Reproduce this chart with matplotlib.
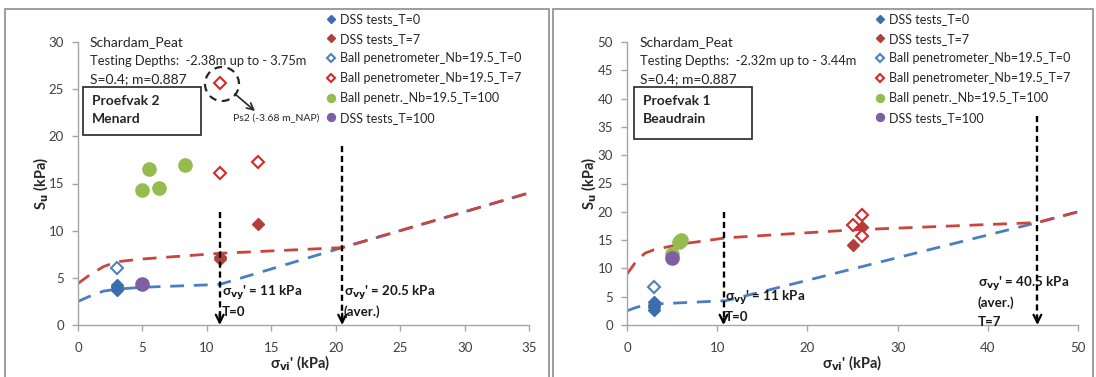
import matplotlib
matplotlib.use("Agg")
import matplotlib.pyplot as plt
from matplotlib.patches import Rectangle, Ellipse

plt.rcParams['font.family'] = ['Lato', 'DejaVu Sans']

# ---------------- data: left panel (Proefvak 2, Menard) ----------------
L_dss0_x = [3, 3, 3]
L_dss0_y = [4.2, 3.7, 4.0]
L_dss7_x = [11, 11, 14]
L_dss7_y = [7.0, 7.2, 10.7]
L_ball0_x = [3]
L_ball0_y = [6.0]
L_ball7_x = [11, 14, 11]
L_ball7_y = [16.1, 17.3, 25.7]
L_ball100_x = [5, 5.5, 6.3, 8.3]
L_ball100_y = [14.3, 16.5, 14.5, 17.0]
L_dss100_x = [5]
L_dss100_y = [4.3]
L_red_x = [0, 1, 2, 3, 5, 8, 11, 20.5, 35]
L_red_y = [4.4, 5.4, 6.2, 6.7, 7.0, 7.3, 7.6, 8.2, 14.0]
L_blue_x = [0, 1, 2, 3, 5, 8, 11, 20.5, 35]
L_blue_y = [2.5, 3.1, 3.6, 3.8, 4.0, 4.15, 4.3, 8.2, 14.0]
L_arrows_x = [11, 20.5]
L_arrows_top = [12, 19]

# ---------------- data: right panel (Proefvak 1, Beaudrain) ----------------
R_dss0_x = [3, 3, 3, 3]
R_dss0_y = [2.6, 3.1, 3.6, 4.1]
R_dss7_x = [25, 26]
R_dss7_y = [14.2, 17.3]
R_ball0_x = [3]
R_ball0_y = [6.8]
R_ball7_x = [25, 26, 26]
R_ball7_y = [17.7, 19.4, 15.8]
R_ball100_x = [5, 5.8, 6]
R_ball100_y = [12.5, 14.6, 15.1]
R_dss100_x = [5]
R_dss100_y = [11.8]
R_red_x = [0, 1, 2, 3, 6, 11, 25, 45.5, 50]
R_red_y = [9.0, 11.2, 12.7, 13.3, 14.3, 15.4, 16.8, 18.1, 20.0]
R_blue_x = [0, 1, 2, 3, 11, 45.5, 50]
R_blue_y = [2.5, 3.1, 3.5, 3.7, 4.3, 18.1, 20.0]
R_arrows_x = [10.7, 45.5]
R_arrows_top = [20, 37]

labels = ['DSS tests_T=0', 'DSS tests_T=7', 'Ball penetrometer_Nb=19.5_T=0',
          'Ball penetrometer_Nb=19.5_T=7', 'Ball penetr._Nb=19.5_T=100', 'DSS tests_T=100']

C_BLUE = '#3C6DAE'
C_RED = '#B0403C'
C_RED_OPEN = '#D42A2A'
C_BLUE_OPEN = '#4F81BD'
C_GREEN = '#94BC4E'
C_PURPLE = '#7E5FA6'
C_LBLUE = '#4A7EC2'
C_LRED = '#C9453F'
GRAY = '#A6A6A6'
TXT = '#404040'

W, H = 1096, 377
fig = plt.figure(figsize=(W / 100, H / 100), dpi=100)

# panel frames
for x0, x1 in [(5, 549), (553, 1093)]:
    fig.patches.append(Rectangle((x0 / W, -0.1), (x1 - x0) / W, (H - 9) / H + 0.1,
                                 transform=fig.transFigure, fill=False,
                                 edgecolor='#8C8C8C', lw=1.2))


def px(x, y):
    return x / W, 1 - y / H


def make_axes(left_px, xmax, xstep, ymax, ystep):
    ax = fig.add_axes([left_px / W, (H - 325) / H, 451 / W, 283 / H])
    ax.set_xlim(0, xmax)
    ax.set_ylim(0, ymax)
    ax.set_xticks(range(0, xmax + 1, xstep))
    ax.set_yticks(range(0, ymax + 1, ystep))
    for s in ['top', 'right']:
        ax.spines[s].set_visible(False)
    for s in ['left', 'bottom']:
        ax.spines[s].set_color(GRAY)
        ax.spines[s].set_linewidth(1.0)
    ax.tick_params(axis='both', colors=GRAY, labelcolor=TXT, labelsize=9.5,
                   length=4, width=1.0, direction='out')
    ax.tick_params(axis='x', pad=8)
    ax.tick_params(axis='y', pad=6)
    ax.patch.set_alpha(0)
    return ax


def draw_panel(ax, d, red_x, red_y, blue_x, blue_y):
    ax.plot(blue_x, blue_y, ls=(0, (5, 3.5)), color=C_LBLUE, lw=2.0, zorder=2)
    ax.plot(red_x, red_y, ls=(0, (5, 3.5)), color=C_LRED, lw=2.0, zorder=2)
    h = []
    h.append(ax.plot(d[0][0], d[0][1], 'D', ms=6.5, color=C_BLUE, ls='none', zorder=4)[0])
    h.append(ax.plot(d[1][0], d[1][1], 'D', ms=6.5, color=C_RED, ls='none', zorder=4)[0])
    h.append(ax.plot(d[2][0], d[2][1], 'D', ms=6.5, mfc='white', mec=C_BLUE_OPEN, mew=1.5,
                     ls='none', zorder=4)[0])
    h.append(ax.plot(d[3][0], d[3][1], 'D', ms=6.5, mfc='white', mec=C_RED_OPEN, mew=1.5,
                     ls='none', zorder=4)[0])
    h.append(ax.plot(d[4][0], d[4][1], 'o', ms=9.5, color=C_GREEN, ls='none', zorder=4)[0])
    h.append(ax.plot(d[5][0], d[5][1], 'o', ms=9.5, color=C_PURPLE, ls='none', zorder=4)[0])
    return h


def vert_arrows(ax, xs, tops):
    for x, t in zip(xs, tops):
        ax.plot([x, x], [t, 0.4], color='black', lw=1.7, ls=(0, (2.6, 1.6)), zorder=5)
        ax.annotate('', xy=(x, 0), xytext=(x, 1.2),
                    arrowprops=dict(arrowstyle='->', color='black', lw=1.6,
                                    mutation_scale=14, shrinkA=0, shrinkB=0),
                    zorder=5)


def legend(ax, handles, x, y):
    leg = ax.legend(handles, labels, loc='upper left', bbox_to_anchor=px(x, y),
                    bbox_transform=fig.transFigure, frameon=False, fontsize=9,
                    handlelength=0.5, handletextpad=0.45, labelspacing=0.62,
                    markerscale=0.6, borderaxespad=0, borderpad=0)
    for t in leg.get_texts():
        t.set_color('#262626')


def header(x, depth_text, box_lines, box_x, box_y, box_w, box_h):
    fig.text(*px(x, 42), 'Schardam_Peat', fontsize=10, color='#262626', va='center')
    fig.text(*px(x, 61), depth_text, fontsize=9.3, color='#262626', va='center')
    fig.text(*px(x, 79), 'S=0.4; m=0.887', fontsize=10, color='#262626', va='center')
    fig.patches.append(Rectangle(px(box_x, box_y + box_h), box_w / W, box_h / H,
                                 transform=fig.transFigure, fill=True, facecolor='white',
                                 edgecolor='#262626', lw=1.2, zorder=3))
    fig.text(*px(box_x + 9, box_y + 14), box_lines[0], fontsize=10, fontweight='bold',
             color='#262626', va='center', zorder=4)
    fig.text(*px(box_x + 9, box_y + 32), box_lines[1], fontsize=10, fontweight='bold',
             color='#262626', va='center', zorder=4)


def axis_labels(ax, ylab_x, xlab_x):
    fig.text(*px(ylab_x, 183), r"S$_\mathbf{u}$ (kPa)", rotation=90, fontsize=10.5,
             fontweight='bold', color='#262626', ha='center', va='center')
    fig.text(*px(xlab_x, 363), r"σ$_\mathbf{vi}$' (kPa)", fontsize=10.5,
             fontweight='bold', color='#262626', ha='center', va='center')


def sig_text(x, y, lines):
    for i, ln in enumerate(lines):
        fig.text(*px(x, y + 19 * i), ln, fontsize=9.6, fontweight='bold',
                 color='#1a1a1a', va='center', zorder=6)


# ---------------- left panel ----------------
axL = make_axes(78, 35, 5, 30, 5)
hL = draw_panel(axL, [(L_dss0_x, L_dss0_y), (L_dss7_x, L_dss7_y), (L_ball0_x, L_ball0_y),
                      (L_ball7_x, L_ball7_y), (L_ball100_x, L_ball100_y),
                      (L_dss100_x, L_dss100_y)],
                L_red_x, L_red_y, L_blue_x, L_blue_y)
vert_arrows(axL, L_arrows_x, L_arrows_top)
legend(axL, hL, 328, 13)
header(90, 'Testing Depths:  -2.38m up to - 3.75m', ['Proefvak 2', 'Menard'], 83, 87, 118, 48)
axis_labels(axL, 41, 300)
sig_text(222, 293, [r"σ$_\mathbf{vy}$' = 11 kPa", 'T=0'])
sig_text(344, 293, [r"σ$_\mathbf{vy}$' = 20.5 kPa", '(aver.)'])
# dashed circle + pointer
circ = Ellipse(px(222, 84), 34 / W, 34 / H, transform=fig.transFigure, fill=False,
               edgecolor='#262626', lw=1.6, ls=(0, (3.5, 2.5)))
fig.patches.append(circ)
axL.annotate('', xy=px(255, 111), xytext=px(235, 94), xycoords='figure fraction',
             textcoords='figure fraction',
             arrowprops=dict(arrowstyle='->', color='#262626', lw=1.2, mutation_scale=12,
                             shrinkA=0, shrinkB=0))
fig.text(*px(233, 118), 'Ps2 (-3.68 m_NAP)', fontsize=7.5, color='#262626', va='center')

# ---------------- right panel ----------------
axR = make_axes(627, 50, 10, 50, 5)
hR = draw_panel(axR, [(R_dss0_x, R_dss0_y), (R_dss7_x, R_dss7_y), (R_ball0_x, R_ball0_y),
                      (R_ball7_x, R_ball7_y), (R_ball100_x, R_ball100_y),
                      (R_dss100_x, R_dss100_y)],
                R_red_x, R_red_y, R_blue_x, R_blue_y)
vert_arrows(axR, R_arrows_x, R_arrows_top)
legend(axR, hR, 877, 13)
header(640, 'Testing Depths:  -2.32m up to - 3.44m', ['Proefvak 1', 'Beaudrain'], 634, 87, 118, 52)
axis_labels(axR, 589, 852)
sig_text(725, 298, [r"σ$_\mathbf{vy}$' = 11 kPa", 'T=0'])
sig_text(978, 284, [r"σ$_\mathbf{vy}$' = 40.5 kPa", '(aver.)', 'T=7'])

fig.savefig('out.png', dpi=100)
